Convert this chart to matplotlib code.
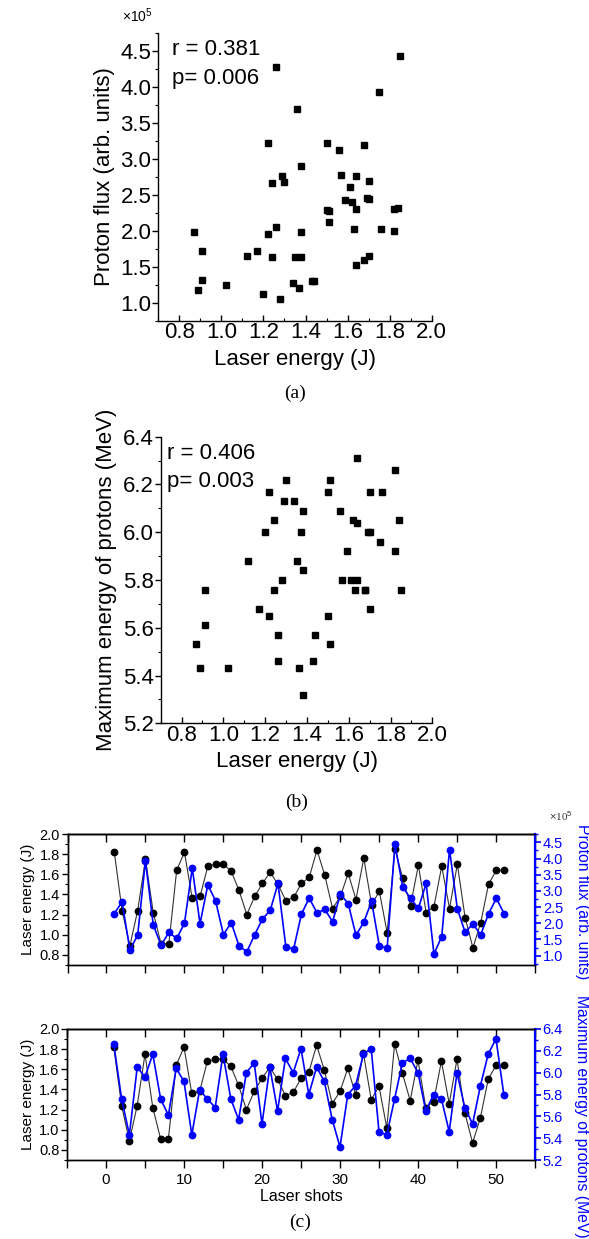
# laser energy vs proton flux / max proton energy, shot by shot

import numpy as np
import matplotlib
matplotlib.use('Agg')
import matplotlib.pyplot as plt
from matplotlib.ticker import MultipleLocator

plt.rcParams['font.family'] = ['Liberation Sans', 'DejaVu Sans']
plt.rcParams['mathtext.fontset'] = 'custom'
plt.rcParams['mathtext.rm'] = 'Liberation Sans'
plt.rcParams['axes.linewidth'] = 1.0

# data (shots 1..51)
shots = list(range(1, 52))
laser_energy = [1.82, 1.24, 0.89, 1.24, 1.75, 1.22, 0.91, 0.91, 1.64, 1.82,
                1.36, 1.38, 1.68, 1.70, 1.70, 1.63, 1.44, 1.20, 1.38, 1.51,
                1.62, 1.50, 1.34, 1.37, 1.51, 1.57, 1.84, 1.59, 1.26, 1.38,
                1.61, 1.35, 1.76, 1.30, 1.43, 1.02, 1.85, 1.56, 1.29, 1.69,
                1.22, 1.28, 1.68, 1.26, 1.70, 1.17, 0.87, 1.12, 1.50, 1.64,
                1.64]
# proton flux in units of 1e5 (arb. units)
proton_flux = [2.30, 2.66, 1.18, 1.63, 3.93, 1.95, 1.32, 1.72, 1.53, 2.00,
               3.70, 1.99, 3.19, 2.69, 1.65, 2.02, 1.30, 1.12, 1.64, 2.13,
               2.40, 3.23, 1.28, 1.20, 2.28, 2.78, 2.32, 2.43, 2.05, 2.90,
               2.61, 1.63, 2.03, 2.68, 1.30, 1.24, 4.44, 3.12, 2.77, 2.46,
               3.23, 1.05, 1.59, 4.28, 2.45, 1.72, 1.98, 1.65, 2.29, 2.77,
               2.30]
max_energy = [6.26, 5.76, 5.43, 6.05, 5.96, 6.17, 5.76, 5.61, 6.04, 5.92,
              5.43, 5.84, 5.76, 5.68, 6.17, 5.76, 5.57, 6.00, 6.09, 5.53,
              6.05, 5.65, 6.13, 6.00, 6.22, 5.80, 6.05, 5.92, 5.57, 5.32,
              5.80, 5.88, 6.17, 6.22, 5.46, 5.43, 5.76, 6.09, 6.13, 6.00,
              5.65, 5.80, 5.76, 5.46, 6.00, 5.68, 5.53, 5.88, 6.17, 6.31,
              5.80]
stats_flux = ['r = 0.381', 'p= 0.006']
stats_energy = ['r = 0.406', 'p= 0.003']

W, H = 589, 1239
fig = plt.figure(figsize=(W / 100, H / 100), dpi=100)


def px_rect(l, t, r, b):
    return [l / W, 1 - b / H, (r - l) / W, (b - t) / H]


def scatter_panel(rect, y, ylim, ymaj, ymin, ylabel, stats, stats_x):
    ax = fig.add_axes(px_rect(*rect))
    ax.plot(laser_energy, y, 'ks', ms=4.6, ls='none')
    ax.set_xlim(0.7, 2.0)
    ax.set_ylim(*ylim)
    ax.spines['top'].set_visible(False)
    ax.spines['right'].set_visible(False)
    ax.xaxis.set_major_locator(MultipleLocator(0.2))
    ax.xaxis.set_minor_locator(MultipleLocator(0.1))
    ax.yaxis.set_major_locator(MultipleLocator(ymaj))
    ax.yaxis.set_minor_locator(MultipleLocator(ymin))
    ax.tick_params(axis='both', which='major', labelsize=16, length=4, width=1, pad=1)
    ax.tick_params(axis='both', which='minor', length=2.5, width=0.8)
    ax.tick_params(axis='x', which='both', direction='in')
    ax.tick_params(axis='y', which='both', direction='out')
    ax.set_xlabel('Laser energy (J)', fontsize=16, labelpad=4)
    ax.set_ylabel(ylabel, fontsize=16, labelpad=4)
    ax.text(stats_x, 0.942, stats[0], transform=ax.transAxes, fontsize=16, va='center')
    ax.text(stats_x, 0.843, stats[1], transform=ax.transAxes, fontsize=16, va='center')
    return ax


# (a)
ax_a = scatter_panel((158.3, 33.3, 431.7, 320.7), proton_flux, (0.75, 4.75), 0.5, 0.25,
                     'Proton flux (arb. units)', stats_flux, 0.05)
fig.text(122 / W, 1 - 16 / H, r'$\times$10$^5$', fontsize=10, va='center')
fig.text(295 / W, 1 - 393 / H, '(a)', family='Liberation Serif', fontsize=14,
         ha='center', va='center')

# (b)
ax_b = scatter_panel((160.7, 436.7, 432.3, 723.3), max_energy, (5.2, 6.4), 0.2, 0.1,
                     'Maximum energy of protons (MeV)', stats_energy, 0.022)
fig.text(297 / W, 1 - 802 / H, '(b)', family='Liberation Serif', fontsize=14,
         ha='center', va='center')


# (c)
def shot_panel(rect, y2, ylim2, ymaj2, ymin2, ylabel2, label_y, bottom):
    ax = fig.add_axes(px_rect(*rect))
    ax.plot(shots, laser_energy, '-', color='#333333', lw=0.8,
            marker='o', ms=4.6, mfc='black', mec='black')
    ax.set_xlim(-5, 55)
    ax.set_ylim(0.7, 2.0)
    ticks = list(range(-5, 56, 5))
    ax.set_xticks(ticks)
    ax.set_xticklabels([str(t) if (t % 10 == 0 and 0 <= t <= 50) else '' for t in ticks])
    ax.yaxis.set_major_locator(MultipleLocator(0.2))
    ax.yaxis.set_minor_locator(MultipleLocator(0.1))
    ax.tick_params(axis='x', direction='out', length=6, width=1, labelsize=11,
                   labelbottom=bottom, top=False)
    ax.tick_params(axis='y', which='major', direction='out', length=4, width=1,
                   labelsize=10.5, pad=1.5)
    ax.tick_params(axis='y', which='minor', direction='out', length=2, width=0.8)
    ax.set_ylabel('Laser energy (J)', fontsize=11, labelpad=3)
    sec = ax.secondary_xaxis('top')
    sec.set_xticks(ticks)
    sec.tick_params(direction='in', length=6, width=1, labeltop=False)

    ax2 = ax.twinx()
    ax2.plot(shots, y2, '-', color='blue', lw=1.2, marker='o', ms=4.6,
             mfc='blue', mec='blue')
    ax2.set_ylim(*ylim2)
    ax2.yaxis.set_major_locator(MultipleLocator(ymaj2))
    ax2.yaxis.set_minor_locator(MultipleLocator(ymin2))
    ax2.spines['right'].set_color('blue')
    ax2.spines['right'].set_linewidth(1.6)
    ax2.tick_params(axis='y', which='major', colors='blue', direction='out',
                    length=4, width=1.2, labelsize=10.5, pad=1.5)
    ax2.tick_params(axis='y', which='minor', colors='blue', direction='out',
                    length=2, width=1)
    ax2.set_ylabel(ylabel2, color='blue', fontsize=11.3, rotation=270,
                   ha='center', va='center')
    ax2.yaxis.set_label_coords(1.1, label_y)
    return ax, ax2


ax_c1, ax_c1r = shot_panel((67.5, 834, 535.3, 965), proton_flux, (0.71, 4.76), 0.5, 0.25,
                           'Proton flux (arb. units)', 0.48, False)
fig.text(549 / W, 1 - 816 / H, r'$\times$10$^5$', fontsize=8, family='Liberation Serif',
         color='#333333', va='center')

ax_c2, ax_c2r = shot_panel((67, 1029, 535, 1160), max_energy, (5.2, 6.4), 0.2, 0.1,
                           'Maximum energy of protons (MeV)', 0.33, True)
ax_c2.set_xlabel('Laser shots', fontsize=11.5, labelpad=1)
fig.text(300 / W, 1 - 1222 / H, '(c)', family='Liberation Serif', fontsize=14,
         ha='center', va='center')

fig.savefig('out.png', dpi=100)
